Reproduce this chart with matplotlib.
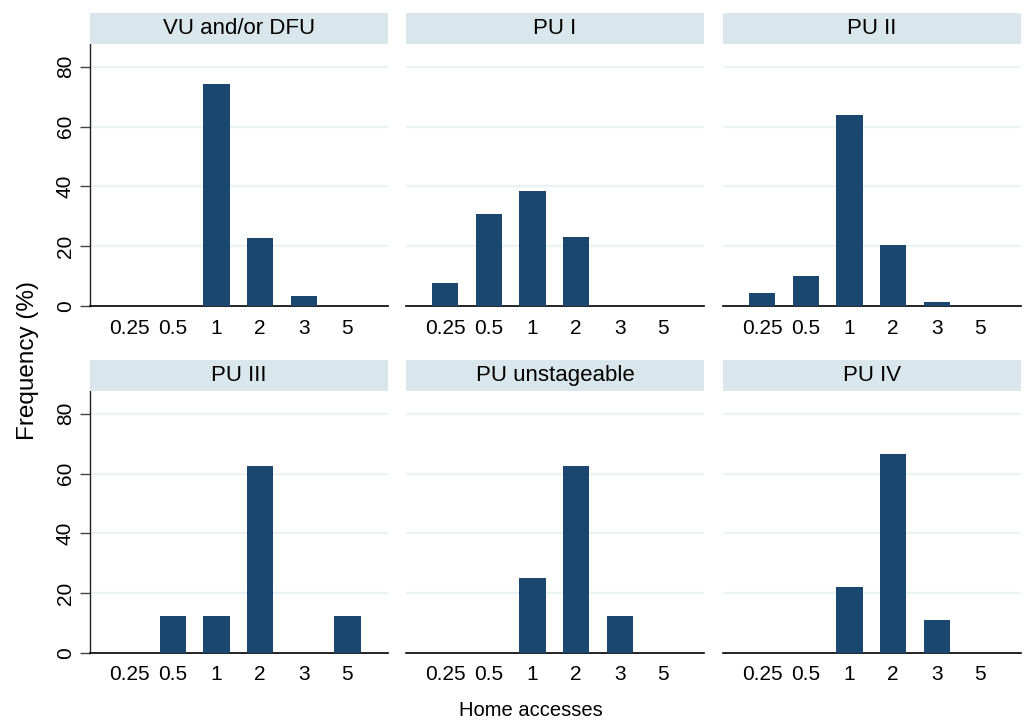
import matplotlib
matplotlib.use("Agg")
import matplotlib.pyplot as plt
import numpy as np

plt.rcParams['font.family'] = ['Liberation Sans', 'DejaVu Sans']

categories = ["0.25", "0.5", "1", "2", "3", "5"]
panel_titles = ["VU and/or DFU", "PU I", "PU II", "PU III", "PU unstageable", "PU IV"]
vu_dfu = [0, 0, 74.2, 22.6, 3.2, 0]
pu_1 = [7.7, 30.8, 38.5, 23.1, 0, 0]
pu_2 = [4.3, 10.1, 63.8, 20.3, 1.4, 0]
pu_3 = [0, 12.5, 12.5, 62.5, 0, 12.5]
pu_unst = [0, 0, 25.0, 62.5, 12.5, 0]
pu_4 = [0, 0, 22.2, 66.7, 11.1, 0]
series = [vu_dfu, pu_1, pu_2, pu_3, pu_unst, pu_4]
yticks = [0, 20, 40, 60, 80]

W, H = 1035, 724
fig = plt.figure(figsize=(W / 100, H / 100), dpi=100)

bar_color = "#1a476f"
strip_color = "#d9e6eb"
grid_color = "#eaf2f3"

lefts = [90, 406, 723]
pw = 298
rows = [(44, 306, 13), (391, 653, 360)]  # (axes top, axes bottom, strip top) in px

x = np.arange(1, len(categories) + 1)
for i, (title, vals) in enumerate(zip(panel_titles, series)):
    r, c = divmod(i, 3)
    top, bot, stop = rows[r]
    l = lefts[c]
    ax = fig.add_axes([l / W, 1 - bot / H, pw / W, (bot - top) / H])
    ax.bar(x, vals, width=0.6, color=bar_color, zorder=3)
    ax.set_xlim(0.1, 6.93)
    ax.set_ylim(0, 87.6)
    ax.set_xticks(x)
    ax.set_xticklabels(categories, fontsize=15)
    ax.tick_params(axis='x', length=0, pad=9)
    ax.set_yticks(yticks)
    for yv in yticks[1:]:
        ax.axhline(yv, color=grid_color, lw=1.6, zorder=1)
    for s in ['top', 'right']:
        ax.spines[s].set_visible(False)
    ax.spines['bottom'].set_color('black')
    ax.spines['bottom'].set_linewidth(1.2)
    if c == 0:
        ax.spines['left'].set_color('#222222')
        ax.spines['left'].set_linewidth(1.0)
        ax.set_yticklabels([str(v) for v in yticks], fontsize=15, rotation=90, va='center')
        ax.tick_params(axis='y', length=7, width=1.0, color='#444444', pad=4)
    else:
        ax.spines['left'].set_visible(False)
        ax.tick_params(axis='y', length=0, labelleft=False)
    # strip
    sax = fig.add_axes([l / W, 1 - top / H, pw / W, (top - stop) / H])
    sax.set_facecolor(strip_color)
    sax.set_xticks([]); sax.set_yticks([])
    for s in sax.spines.values():
        s.set_visible(False)
    sax.text(0.5, 0.5, title, ha='center', va='center', fontsize=16, transform=sax.transAxes)

fig.text(28 / W, 1 - 360 / H, "Frequency (%)", rotation=90, ha='center', va='center', fontsize=17.5)
fig.text(531 / W, 1 - 711 / H, "Home accesses", ha='center', va='center', fontsize=14.5)

fig.savefig("out.png", dpi=100, facecolor='white')
